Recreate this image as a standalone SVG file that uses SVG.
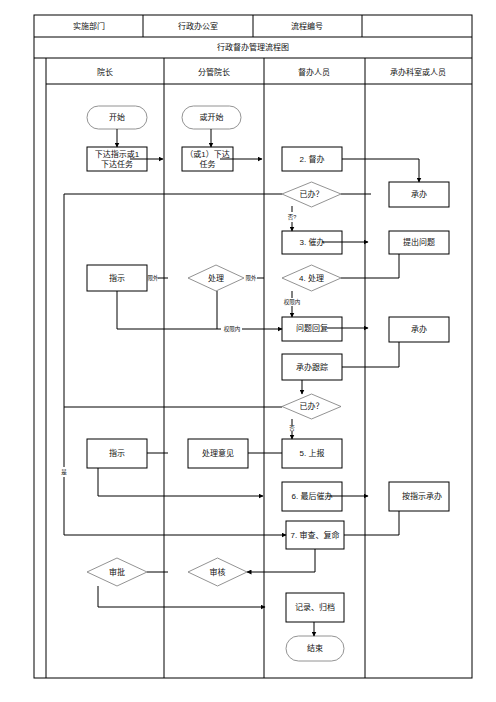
<svg xmlns="http://www.w3.org/2000/svg" width="496" height="702" viewBox="0 0 496 702">
<defs>
<style>
text{font-family:"Liberation Sans","Noto Sans CJK SC",sans-serif;fill:#111;text-anchor:middle;dominant-baseline:central}
.t{font-size:8px}
.s{font-size:5.5px}
.grid{stroke:#000;stroke-width:1;fill:none}
.box{fill:#fff;stroke:#000;stroke-width:1}
.dia{fill:#fff;stroke:#777;stroke-width:0.8}
.sta{fill:#fff;stroke:#777;stroke-width:0.8}
.c{stroke:#000;stroke-width:1;fill:none}
.a{stroke:#000;stroke-width:1;fill:none;marker-end:url(#ah)}
</style>
<marker id="ah" viewBox="0 0 10 10" refX="9" refY="5" markerWidth="5" markerHeight="5" orient="auto" markerUnits="userSpaceOnUse"><path d="M0,0 L10,5 L0,10 z" fill="#000"/></marker>
</defs>
<rect width="496" height="702" fill="#fff"/>
<g id="frame">
<rect class="grid" x="34" y="15" width="438" height="663"/>
<line class="grid" x1="34" y1="37" x2="472" y2="37"/>
<line class="grid" x1="34" y1="58" x2="472" y2="58"/>
<line class="grid" x1="46" y1="84" x2="472" y2="84"/>
<line class="grid" x1="143" y1="15" x2="143" y2="37"/>
<line class="grid" x1="253" y1="15" x2="253" y2="37"/>
<line class="grid" x1="362" y1="15" x2="362" y2="37"/>
<line class="grid" x1="46" y1="58" x2="46" y2="678"/>
<line class="grid" x1="164" y1="58" x2="164" y2="678"/>
<line class="grid" x1="264" y1="58" x2="264" y2="678"/>
<line class="grid" x1="365" y1="58" x2="365" y2="678"/>
<text class="t" x="89" y="26">实施部门</text>
<text class="t" x="198" y="26">行政办公室</text>
<text class="t" x="307" y="26">流程编号</text>
<text class="t" x="253" y="47">行政督办管理流程图</text>
<text class="t" x="105" y="72">院长</text>
<text class="t" x="214" y="72">分管院长</text>
<text class="t" x="314" y="72">督办人员</text>
<text class="t" x="418" y="72">承办科室或人员</text>
</g>
<g id="n-start"><rect class="sta" x="87" y="106" width="60" height="23" rx="11.5"/><text class="t" x="117" y="117.5">开始</text></g>
<g id="n-start2"><rect class="sta" x="182" y="106" width="59" height="23" rx="11.5"/><text class="t" x="211.5" y="117.5">或开始</text></g>
<g id="n-xiada"><rect class="box" x="87" y="147" width="60" height="24"/><text class="t" x="117" y="154">下达指示或1</text><text class="t" x="117" y="164">下达任务</text></g>
<g id="n-xiada2"><rect class="box" x="182" y="147" width="51" height="24"/><text class="t" x="207.5" y="154">（或1）下达</text><text class="t" x="207.5" y="164">任务</text></g>
<g id="n-duban"><rect class="box" x="282" y="147" width="60" height="24"/><text class="t" x="312" y="159">2. 督办</text></g>
<g id="n-chengban1"><rect class="box" x="389" y="182" width="60" height="25"/><text class="t" x="419" y="194.5">承办</text></g>
<g id="n-yiban1"><polygon class="dia" points="282,194 311.5,182 341,194 311.5,207"/><text class="t" x="311.5" y="194.5">已办？</text></g>
<g id="n-cuiban"><rect class="box" x="282" y="231" width="60" height="23"/><text class="t" x="312" y="242.5">3. 催办</text></g>
<g id="n-tichu"><rect class="box" x="389" y="231" width="60" height="23"/><text class="t" x="419" y="242.5">提出问题</text></g>
<g id="n-chuli4"><polygon class="dia" points="282,278 311.5,265 341,278 311.5,291"/><text class="t" x="311.5" y="278">4. 处理</text></g>
<g id="n-zhishi1"><rect class="box" x="87" y="265" width="60" height="26"/><text class="t" x="117" y="278">指示</text></g>
<g id="n-chuli"><polygon class="dia" points="188,278 216,265 244,278 216,291"/><text class="t" x="216" y="278">处理</text></g>
<g id="n-huifu"><rect class="box" x="282" y="317" width="60" height="24"/><text class="t" x="312" y="328.5">问题回复</text></g>
<g id="n-chengban2"><rect class="box" x="389" y="317" width="60" height="25"/><text class="t" x="419" y="329">承办</text></g>
<g id="n-genzong"><rect class="box" x="282" y="354" width="60" height="26"/><text class="t" x="312" y="367">承办跟踪</text></g>
<g id="n-yiban2"><polygon class="dia" points="282,406.5 311.5,394 341,406.5 311.5,419"/><text class="t" x="311.5" y="406.5">已办？</text></g>
<g id="n-shangbao"><rect class="box" x="282" y="439" width="60" height="29"/><text class="t" x="312" y="453">5. 上报</text></g>
<g id="n-zhishi2"><rect class="box" x="87" y="439" width="60" height="29"/><text class="t" x="117" y="453">指示</text></g>
<g id="n-yijian"><rect class="box" x="188" y="439" width="60" height="29"/><text class="t" x="218" y="453">处理意见</text></g>
<g id="n-zuihou"><rect class="box" x="282" y="482" width="60" height="29"/><text class="t" x="312" y="496">6. 最后催办</text></g>
<g id="n-anzhishi"><rect class="box" x="389" y="482" width="60" height="29"/><text class="t" x="422" y="496">按指示承办</text></g>
<g id="n-shencha"><rect class="box" x="286" y="521" width="58" height="28"/><text class="t" x="315" y="535">7. 审查、复命</text></g>
<g id="n-shenpi"><polygon class="dia" points="87,572 117,558 147,572 117,586"/><text class="t" x="117" y="572">审批</text></g>
<g id="n-shenhe"><polygon class="dia" points="188,572 217.5,558 247,572 217.5,586"/><text class="t" x="217.5" y="572">审核</text></g>
<g id="n-jilu"><rect class="box" x="286" y="593" width="58" height="29"/><text class="t" x="315" y="607">记录、归档</text></g>
<g id="n-end"><rect class="sta" x="286" y="636" width="58" height="25" rx="12.5"/><text class="t" x="315" y="648.5">结束</text></g>
<g id="connectors">
<path class="a" d="M117,129 V147"/>
<path class="a" d="M211,129 V147"/>
<path class="a" d="M130,159 H163"/>
<path class="a" d="M220,159 H262"/>
<path class="a" d="M342,159 H419 V182"/>
<path class="c" d="M341,194 H371"/>
<path class="c" d="M282,194 H64 V467"/>
<path class="c" d="M64,477 V535"/>
<path class="a" d="M64,535 H286"/>
<path class="c" d="M292,206 V212"/>
<path class="a" d="M292,222 V231"/>
<path class="a" d="M322,242 H368"/>
<path class="c" d="M399,254 V278 H341"/>
<path class="c" d="M158,278 H168"/>
<path class="c" d="M257,278 H264"/>
<path class="c" d="M292,291 V298"/>
<path class="a" d="M292,306 V317"/>
<path class="c" d="M117,291 V329 H221"/>
<path class="c" d="M217,291 V329"/>
<path class="a" d="M242,329 H282"/>
<path class="a" d="M327,328 H368"/>
<path class="c" d="M399,342 V367 H342"/>
<path class="a" d="M302,380 V394"/>
<path class="c" d="M282,407 H64"/>
<path class="c" d="M292,419 V425"/>
<path class="a" d="M292,431 V439"/>
<path class="c" d="M147,453 H168"/>
<path class="c" d="M248,453 H282"/>
<path class="a" d="M98,468 V496 H263"/>
<path class="a" d="M327,496 H368"/>
<path class="c" d="M399,511 V535 H344"/>
<path class="a" d="M315,549 V572 H247"/>
<path class="c" d="M147,572 H168"/>
<path class="a" d="M98,586 V607 H265"/>
<path class="a" d="M314,622 V636"/>
</g>
<g id="labels">
<text class="s" x="292" y="217">否?</text>
<text class="s" x="153" y="278">限外</text>
<text class="s" x="251" y="278">限外</text>
<text class="s" x="292" y="302">权限内</text>
<text class="s" x="232" y="329">权限内</text>
<text class="s" x="292" y="428">否</text>
<text class="s" x="64" y="472">是</text>
</g>
</svg>
